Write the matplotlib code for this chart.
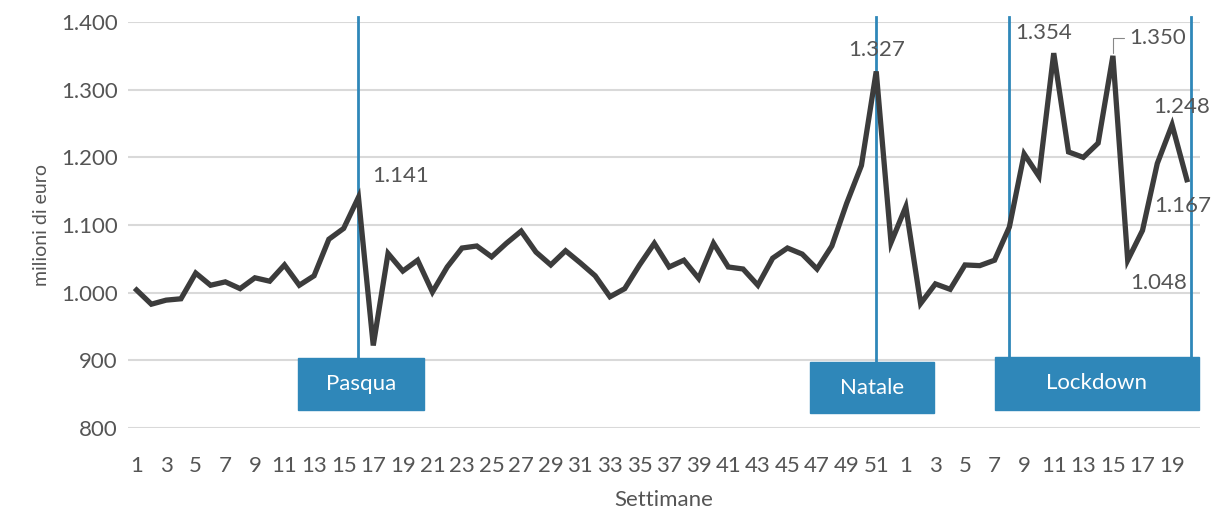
import matplotlib.pyplot as plt
from matplotlib.patches import Rectangle

# weekly values (milioni di euro), 52 weeks of year 1 + 20 weeks of year 2
weeks = list(range(1, 53)) + list(range(1, 21))
values = [1004, 983, 989, 991, 1029, 1011, 1016, 1006, 1022, 1017,
          1041, 1011, 1025, 1079, 1095, 1141, 922, 1058, 1032, 1048,
          1001, 1038, 1066, 1069, 1053, 1073, 1091, 1060, 1041, 1062,
          1044, 1025, 994, 1006, 1041, 1073, 1038, 1048, 1021, 1073,
          1038, 1035, 1011, 1051, 1066, 1057, 1035, 1069, 1132, 1188,
          1327, 1074, 1127, 984, 1013, 1005, 1041, 1040, 1048, 1097,
          1205, 1172, 1354, 1208, 1200, 1221, 1350, 1048, 1092, 1191,
          1248, 1167]

# annotated points: index, text offset (pt), alignment
labels = [(15, (10, 8), "left", "bottom"),
          (50, (0, 8), "center", "bottom"),
          (62, (-7, 7), "center", "bottom"),
          (70, (7, 6), "center", "bottom"),
          (71, (-3, -12), "center", "top"),
          (67, (22, -9), "center", "top")]

# events: label, vertical line indices, box extent (x0, x1, y0, y1)
events = [("Pasqua", [15], (10.9, 19.4, 827, 903)),
          ("Natale", [50], (45.5, 53.9, 822, 897)),
          ("Lockdown", [59, 71.3], (58.0, 71.8, 827, 905))]

blue = "#2f87b9"
grey_txt = "#555555"

plt.rcParams['font.family'] = ['Lato', 'DejaVu Sans']

fig = plt.figure(figsize=(12.16, 5.12), dpi=100)
ax = fig.add_axes([0.105, 0.164, 0.882, 0.793])

x = list(range(len(values)))
ax.set_xlim(-0.6, 71.9)
ax.set_ylim(800, 1400)

ax.set_yticks(range(800, 1401, 100))
ax.set_yticklabels([f"{v:,}".replace(",", ".") for v in range(800, 1401, 100)])
ax.grid(axis="y", color="#d9d9d9", linewidth=1.5)
ax.set_axisbelow(True)

ax.set_xticks(x[::2])
ax.set_xticklabels([str(w) for w in weeks[::2]])
ax.tick_params(length=0, labelsize=16, labelcolor=grey_txt)
ax.tick_params(axis="x", pad=20)
ax.tick_params(axis="y", pad=7)
for s in ax.spines.values():
    s.set_visible(False)

# event lines and boxes
for name, lines, (x0, x1, y0, y1) in events:
    for lx in lines:
        ax.plot([lx, lx], [y1, 1408], color=blue, linewidth=2, clip_on=False, zorder=2)
    ax.add_patch(Rectangle((x0, y0), x1 - x0, y1 - y0, color=blue, zorder=3, clip_on=False))
    ax.text((x0 + x1) / 2, (y0 + y1) / 2, name, color="white", fontsize=16,
            ha="center", va="center", zorder=4)

ax.plot(x, values, color="#3c3c3c", linewidth=3.8, zorder=5, solid_joinstyle="miter")

for i, off, ha, va in labels:
    ax.annotate(f"{values[i] / 1000:.3f}", (i, values[i]), xytext=off,
                textcoords="offset points", ha=ha, va=va, fontsize=16,
                color=grey_txt, zorder=6)

# leader for 1.350
ax.annotate(f"{values[66] / 1000:.3f}", (66, values[66]), xytext=(12, 13),
            textcoords="offset points", ha="left", va="center", fontsize=16,
            color=grey_txt, zorder=6,
            arrowprops=dict(arrowstyle="-", color="#888888", linewidth=0.8,
                            connectionstyle="angle,angleA=0,angleB=90,rad=0",
                            shrinkA=2, shrinkB=2))

ax.set_ylabel("milioni di euro", fontsize=14, color=grey_txt, labelpad=8)
ax.set_xlabel("Settimane", fontsize=16, color=grey_txt, labelpad=10)

fig.savefig("out.png", dpi=100)
